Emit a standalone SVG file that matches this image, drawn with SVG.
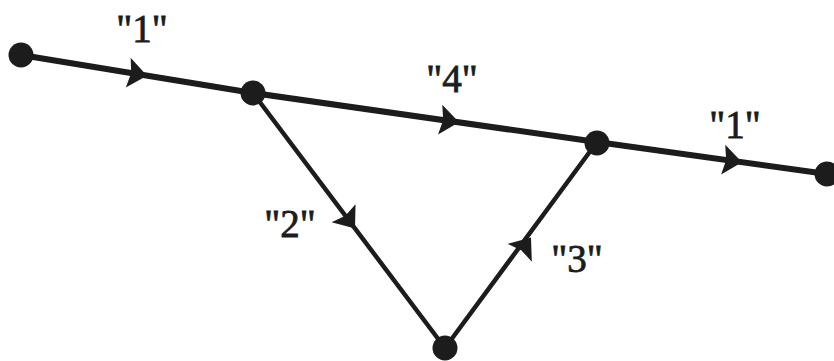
<svg xmlns="http://www.w3.org/2000/svg" width="834" height="361" viewBox="0 0 834 361">
<defs>
<style>
.edge{fill:none;stroke:#1c1c1c;stroke-linecap:round;stroke-linejoin:round}
.main{stroke-width:6}
.diag{stroke-width:4.5}
.node{fill:#1c1c1c}
.ah{fill:#1c1c1c}
.lbl{font-family:"Liberation Serif","Times New Roman",serif;font-size:39px;fill:#1c1c1c;stroke:#1c1c1c;stroke-width:0.8;text-anchor:middle}
</style>
<path id="ah" d="M0,0 L-19,-15 L-16,0 L-19,15 Z"/>
</defs>
<rect width="834" height="361" fill="#ffffff"/>
<g id="connectors">
<path class="edge main" d="M21,55 L253,93"/>
<path class="edge main" d="M253,93 L597,142"/>
<path class="edge main" d="M597,142 L827,174"/>
<path class="edge diag" d="M253,93 L445,348"/>
<path class="edge diag" d="M445,348 L597,142"/>
<use href="#ah" class="ah" transform="translate(147,75.7) rotate(9.3)"/>
<use href="#ah" class="ah" transform="translate(459,122.3) rotate(8.1)"/>
<use href="#ah" class="ah" transform="translate(742,162.2) rotate(7.9)"/>
<use href="#ah" class="ah" transform="translate(355,228.5) rotate(53)"/>
<use href="#ah" class="ah" transform="translate(531,237.5) rotate(-53.6)"/>
</g>
<g id="node-a"><circle class="node" cx="21" cy="55" r="12.5"/></g>
<g id="node-b"><circle class="node" cx="253" cy="93" r="12.5"/></g>
<g id="node-c"><circle class="node" cx="597" cy="143" r="12.5"/></g>
<g id="node-d"><circle class="node" cx="827" cy="174" r="12.5"/></g>
<g id="node-e"><circle class="node" cx="445" cy="348" r="12.5"/></g>
<g id="labels">
<text class="lbl" x="142" y="42">"1"</text>
<text class="lbl" x="452" y="92">"4"</text>
<text class="lbl" x="735" y="138">"1"</text>
<text class="lbl" x="290" y="237">"2"</text>
<text class="lbl" x="577" y="272">"3"</text>
</g>
</svg>
